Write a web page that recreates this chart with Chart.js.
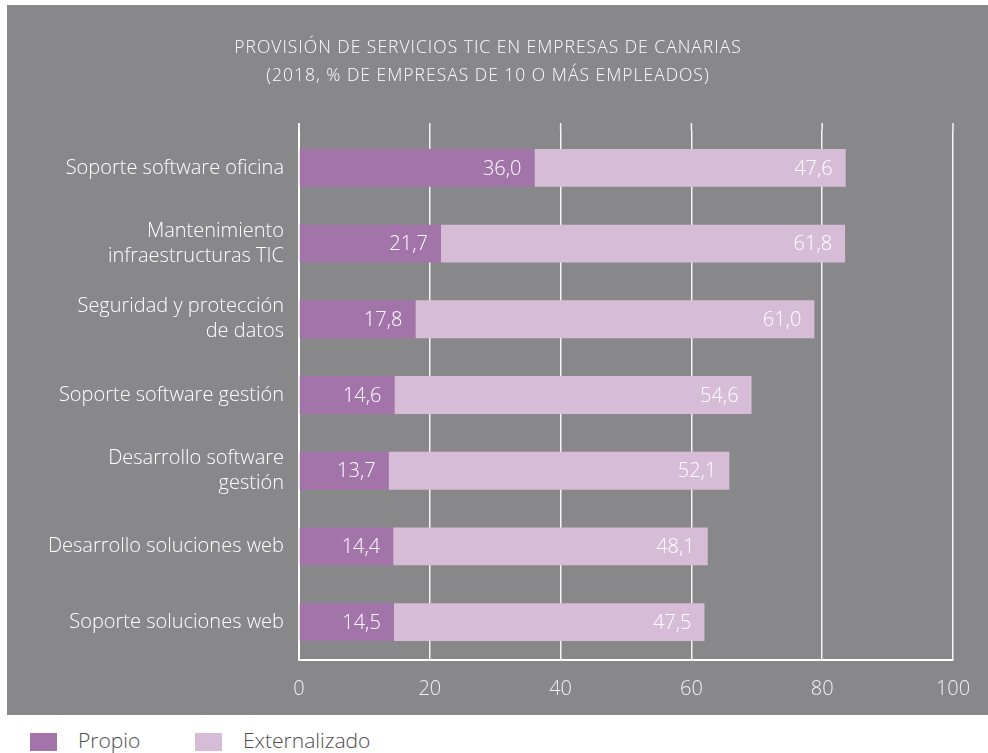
<!DOCTYPE html>
<html lang="es">
<head>
<meta charset="utf-8">
<title>Provisión de servicios TIC</title>
<script src="https://cdn.jsdelivr.net/npm/chart.js"></script>
<style>
  html, body { margin: 0; padding: 0; background: #ffffff; }
  body { width: 988px; height: 753px; position: relative; overflow: hidden; font-family: "Open Sans", Lato, sans-serif; font-weight: 300; }
  .panel { position: absolute; left: 7px; top: 5px; width: 981px; height: 710px; background: #88888a; }
  .panel canvas { position: absolute; left: 0; top: 0; }
  .title { position: absolute; left: 0; top: 32px; width: 976px; text-align: center; color: #ffffff; font-size: 17.5px; line-height: 28px; letter-spacing: 1px; }
  .legend { color: #4d4d4d; font-size: 21px; }
  .legend .item { position: absolute; top: 725px; display: flex; align-items: center; line-height: 30px; }
  .legend .sw { width: 27px; height: 18px; display: inline-block; margin-right: 21px; position: relative; top: 2px; }
</style>
</head>
<body>
<div class="panel">
  <canvas id="chart-tic" width="981" height="710"></canvas>
</div>
<div class="title" id="title"></div>
<div class="legend" id="legend"></div>

<script>
const titleLines = ['PROVISIÓN DE SERVICIOS TIC EN EMPRESAS DE CANARIAS', '(2018, % DE EMPRESAS DE 10 O MÁS EMPLEADOS)'];

// categories, top to bottom
const categories = [
  'Soporte software oficina',
  ['Mantenimiento', 'infraestructuras TIC'],
  ['Seguridad y protección', 'de datos'],
  'Soporte software gestión',
  ['Desarrollo software', 'gestión'],
  'Desarrollo soluciones web',
  'Soporte soluciones web'
];
const propio = [36.0, 21.7, 17.8, 14.6, 13.7, 14.4, 14.5];
const externalizado = [47.6, 61.8, 61.0, 54.6, 52.1, 48.1, 47.5];
const xTicks = [0, 20, 40, 60, 80, 100];

const seriesNames = ['Propio', 'Externalizado'];
const seriesColors = ['#a374aa', '#d6bcd6'];

const FONT = '"Open Sans", Lato, sans-serif';
const fmt = v => v.toFixed(1).replace('.', ',');

// value text at the inner right end of each bar segment
const barValues = {
  id: 'barValues',
  afterDatasetsDraw(chart) {
    const ctx = chart.ctx;
    ctx.save();
    ctx.font = '300 20px ' + FONT;
    ctx.fillStyle = '#ffffff';
    ctx.textAlign = 'right';
    ctx.textBaseline = 'middle';
    chart.data.datasets.forEach((ds, i) => {
      chart.getDatasetMeta(i).data.forEach((bar, j) => {
        ctx.fillText(fmt(ds.data[j]), bar.x - 13, bar.y + 1);
      });
    });
    ctx.restore();
  }
};

// gridlines poke a little above the plot area
const gridStubs = {
  id: 'gridStubs',
  afterDraw(chart) {
    const { ctx, chartArea, scales } = chart;
    ctx.save();
    ctx.strokeStyle = '#f4f4f4';
    scales.x.ticks.forEach(t => {
      const x = scales.x.getPixelForValue(t.value);
      ctx.lineWidth = t.value === 0 ? 2 : 1.5;
      ctx.beginPath();
      ctx.moveTo(x, chartArea.top - 7);
      ctx.lineTo(x, chartArea.top);
      ctx.stroke();
    });
    ctx.restore();
  }
};

Chart.defaults.font.family = FONT;
Chart.defaults.font.weight = '300';
Chart.defaults.color = '#ffffff';

new Chart(document.getElementById('chart-tic'), {
  type: 'bar',
  data: {
    labels: categories,
    datasets: [
      { label: seriesNames[0], data: propio, backgroundColor: seriesColors[0] },
      { label: seriesNames[1], data: externalizado, backgroundColor: seriesColors[1] }
    ]
  },
  options: {
    indexAxis: 'y',
    responsive: false,
    animation: false,
    events: [],
    categoryPercentage: 1,
    barPercentage: 0.5,
    layout: { padding: { left: 0, right: 35, top: 125, bottom: 0 } },
    plugins: {
      legend: { display: false },
      tooltip: { enabled: false },
      title: { display: false }
    },
    scales: {
      x: {
        stacked: true,
        min: 0,
        max: 100,
        afterBuildTicks(scale) { scale.ticks = xTicks.map(v => ({ value: v })); },
        afterFit(scale) { scale.height = 55; },
        grid: { color: '#f4f4f4', lineWidth: 1.5, drawTicks: false },
        border: { color: '#ffffff', width: 2 },
        ticks: { color: '#f0f0f0', font: { size: 20 }, padding: 17 }
      },
      y: {
        stacked: true,
        afterFit(scale) { scale.width = 292; },
        grid: { display: false, drawTicks: false },
        border: { color: '#ffffff', width: 2 },
        ticks: { color: '#ffffff', font: { size: 20, lineHeight: 1.25 }, padding: 15 }
      }
    }
  },
  plugins: [barValues, gridStubs]
});

document.getElementById('title').innerHTML = titleLines.join('<br>');

// legend below the panel
const legendEl = document.getElementById('legend');
const legendLeft = [30, 195];
seriesNames.forEach((name, i) => {
  const item = document.createElement('span');
  item.className = 'item';
  item.style.left = legendLeft[i] + 'px';
  item.innerHTML = '<span class="sw" style="background:' + seriesColors[i] + '"></span>' + name;
  legendEl.appendChild(item);
});
</script>
</body>
</html>
